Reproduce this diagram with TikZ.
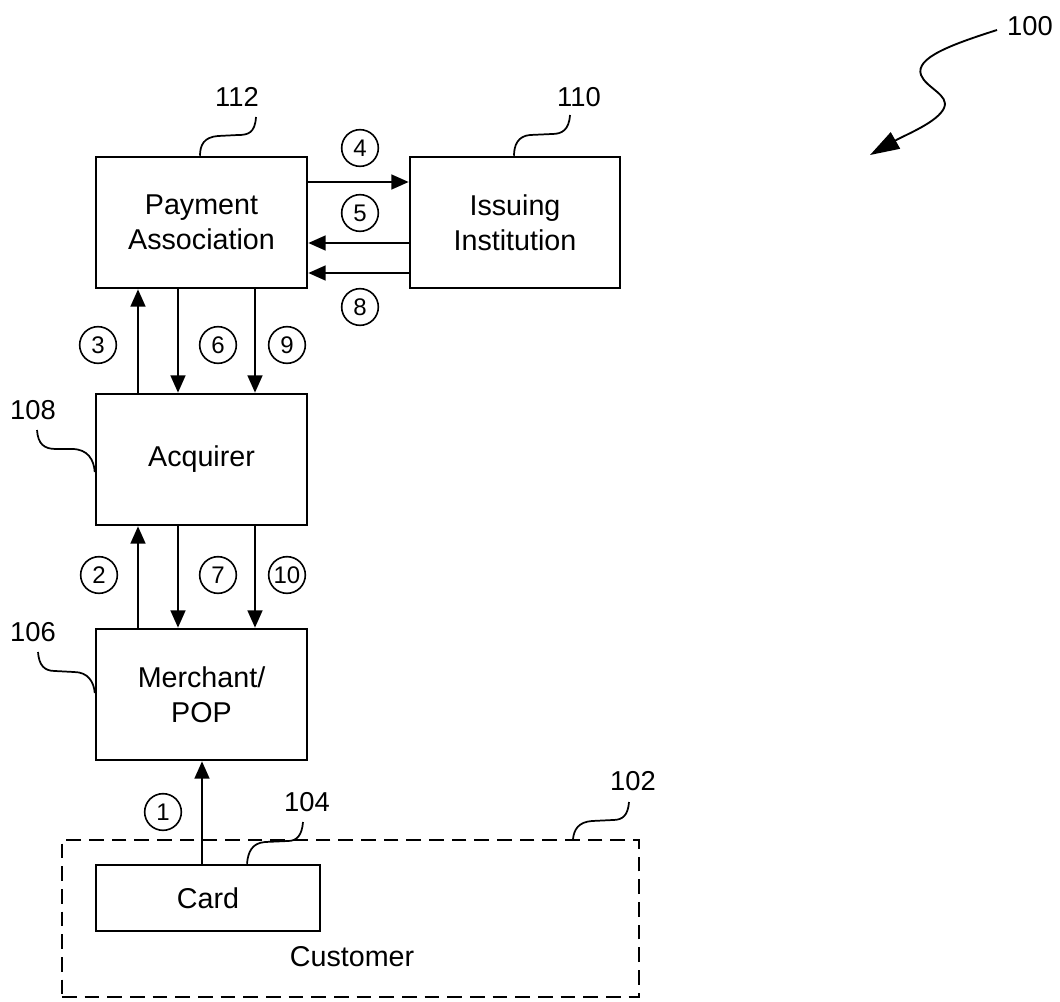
\documentclass[tikz,border=0pt]{standalone}
\usepackage{fontspec}
\setmainfont{Liberation Sans}
\usetikzlibrary{arrows.meta,calc}
\begin{document}
\begin{tikzpicture}[x=0.75pt,y=-0.75pt,
 box/.style={draw,line width=1.9pt,rectangle,minimum width=158.25pt,minimum height=98.25pt,inner sep=0pt,align=center,font=\fontsize{21.5}{26}\selectfont},
 num/.style={draw,circle,line width=1.2pt,minimum size=27.5pt,inner sep=0pt,font=\fontsize{18}{18}\selectfont},
 lbl/.style={font=\fontsize{20.5}{20}\selectfont,inner sep=0pt},
 arr/.style={line width=1.8pt,-{Triangle[length=13pt,width=11pt]}},
 lead/.style={line width=1.3pt},
]
\useasboundingbox[fill=white] (0,0) rectangle (1060,1002);

% boxes
\node[box] (pa) at (201.5,222.5) {Payment\\Association};
\node[box,minimum width=157.5pt] (ii) at (515,222.5) {Issuing\\Institution};
\node[box] (ac) at (201.5,459.5) {Acquirer};
\node[box] (mp) at (201.5,694.5) {Merchant/\\POP};
\node[draw,line width=1.5pt,dash pattern=on 11pt off 6pt,minimum width=432.75pt,minimum height=117.75pt,inner sep=0pt] (cu) at (350.5,918.5) {};
\node[box,minimum width=168pt,minimum height=49.5pt] (cd) at (208,898) {Card};
\node[font=\fontsize{21.5}{26}\selectfont,inner sep=0pt] (cut) at (352,957) {Customer};

% helper coordinates
\coordinate (y4) at (0,182);
\coordinate (y5) at (0,243);
\coordinate (y8) at (0,273);
\coordinate (xa) at (138,0);
\coordinate (xb) at (178,0);
\coordinate (xc) at (255,0);
\coordinate (x1) at (202,0);

% arrows
\draw[arr] (pa.east|-y4) -- (ii.west|-y4);
\draw[arr] (ii.west|-y5) -- (pa.east|-y5);
\draw[arr] (ii.west|-y8) -- (pa.east|-y8);
\draw[arr] (ac.north-|xa) -- (pa.south-|xa);
\draw[arr] (pa.south-|xb) -- (ac.north-|xb);
\draw[arr] (pa.south-|xc) -- (ac.north-|xc);
\draw[arr] (mp.north-|xa) -- (ac.south-|xa);
\draw[arr] (ac.south-|xb) -- (mp.north-|xb);
\draw[arr] (ac.south-|xc) -- (mp.north-|xc);
\draw[arr] (cd.north-|x1) -- (mp.south-|x1);

% step numbers
\node[num] (n1) at (163,812) {1};
\node[num] (n2) at (99,575) {2};
\node[num] (n3) at (98,345) {3};
\node[num] (n4) at (360,148) {4};
\node[num] (n5) at (360,213) {5};
\node[num] (n6) at (218,345) {6};
\node[num] (n7) at (218,575) {7};
\node[num] (n8) at (360,307) {8};
\node[num] (n9) at (287,345) {9};
\node[num] (n10) at (287,575) {10};

% reference labels
\node[lbl] (l100) at (1030,26) {100};
\node[lbl] (l112) at (237,97) {112};
\node[lbl] (l110) at (579,97) {110};
\node[lbl] (l108) at (33,410) {108};
\node[lbl] (l106) at (33,632) {106};
\node[lbl] (l104) at (307,802) {104};
\node[lbl] (l102) at (633,781) {102};

% leader lines
\coordinate (s112) at (256,117);
\coordinate (s110) at (570,115);
\coordinate (s108) at (37,430);
\coordinate (s106) at (38,652);
\coordinate (s104) at (303,822);
\coordinate (s102) at (629,802);
\coordinate (s100) at (997,30);
\coordinate (t100) at (870,155);

\draw[lead] (s112) .. controls (255,133) and (248,135) .. (238,135) -- (218,136) .. controls (204,137) and (200,145) .. (pa.north-|200,0);
\draw[lead] (s110) .. controls (569,130) and (562,134) .. (552,134) -- (530,135) .. controls (518,136) and (514,145) .. (ii.north-|514,0);
\draw[lead] (s108) .. controls (38,444) and (44,449) .. (56,449) -- (72,449) .. controls (88,449) and (94,460) .. (ac.west|-0,472);
\draw[lead] (s106) .. controls (39,665) and (44,671) .. (55,671) -- (74,672) .. controls (88,672) and (94,682) .. (mp.west|-0,693);
\draw[lead] (s104) .. controls (302,835) and (297,841) .. (288,841) -- (265,842) .. controls (252,843) and (248,852) .. (cd.north-|247,0);
\draw[lead] (s102) .. controls (628,815) and (623,820) .. (613,820) -- (592,821) .. controls (578,822) and (574,830) .. (cu.north-|573,0);
\draw[line width=1.4pt,-{Triangle[length=22pt,width=14pt]}] (s100) .. controls (950,45) and (915,58) .. (921,75) .. controls (926,88) and (950,95) .. (944,108) .. controls (938,122) and (905,135) .. (t100);
\end{tikzpicture}
\end{document}
